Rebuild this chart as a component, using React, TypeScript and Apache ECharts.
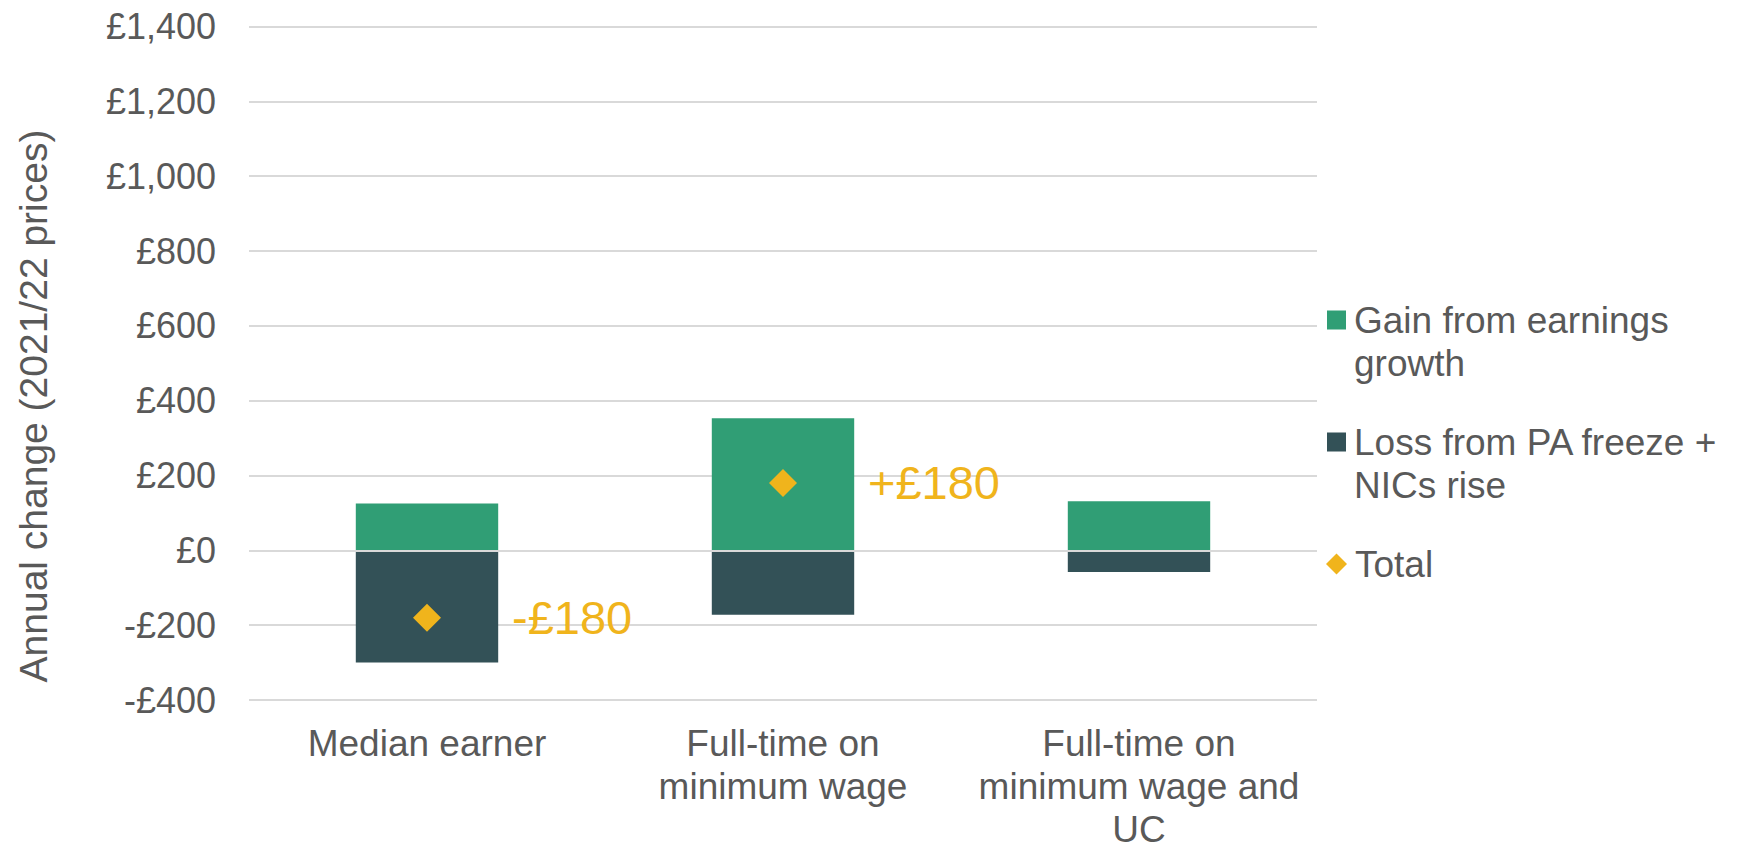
import React, { useEffect, useRef } from "react";
import * as echarts from "echarts";

// Household groups on the category axis
const categories: string[] = [
  "Median earner",
  "Full-time on\nminimum wage",
  "Full-time on\nminimum wage and\nUC",
];

// Annual change in £ (2021/22 prices)
const gainFromEarnings: number[] = [125, 353, 131];
const lossFromPaNics: number[] = [-300, -172, -58];
const totalChange: (number | string)[] = [-180, 180, "-"];

// Value-axis ticks
const yTicks: number[] = [-400, -200, 0, 200, 400, 600, 800, 1000, 1200, 1400];

const GAIN_NAME = "Gain from earnings growth";
const LOSS_NAME = "Loss from PA freeze + NICs rise";
const TOTAL_NAME = "Total";

const legendLabels: Record<string, string> = {
  [GAIN_NAME]: "Gain from earnings\ngrowth",
  [LOSS_NAME]: "Loss from PA freeze +\nNICs rise",
  [TOTAL_NAME]: "Total",
};

const GREEN = "#309E75";
const DARK = "#335157";
const YELLOW = "#F0B41C";
const TEXT = "#595959";
const GRID = "#D9D9D9";
const FONT = "'Liberation Sans', Arial, Helvetica, sans-serif";

// Square legend swatch sitting on the first line of a two-line label
const TOP_SQUARE = "path://M0,0H19V19H0Z M0,62H19";

const money = (v: number): string => {
  const abs = Math.abs(v).toLocaleString("en-GB");
  return v < 0 ? `-£${abs}` : `£${abs}`;
};

const legendText = {
  color: TEXT,
  fontSize: 37,
  lineHeight: 43,
  fontFamily: FONT,
  padding: [0, 0, 0, 3],
};

export default function App() {
  const ref = useRef<HTMLDivElement>(null);

  useEffect(() => {
    if (!ref.current) return;
    const chart = echarts.init(ref.current, undefined, { renderer: "svg" });

    chart.setOption({
      animation: false,
      backgroundColor: "#ffffff",
      textStyle: { fontFamily: FONT },
      grid: { left: 249, right: 426, top: 26.5, height: 678.7, containLabel: false },
      graphic: [
        {
          type: "text",
          x: 33,
          y: 406,
          rotation: Math.PI / 2,
          style: {
            text: "Annual change (2021/22 prices)",
            fontSize: 39,
            fontFamily: FONT,
            fill: TEXT,
            align: "center",
            verticalAlign: "middle",
          },
        },
      ],
      legend: [
        {
          data: [GAIN_NAME],
          left: 1327,
          top: 298.5,
          padding: 0,
          orient: "vertical",
          icon: TOP_SQUARE,
          itemWidth: 19,
          itemHeight: 62,
          textStyle: legendText,
          formatter: (n: string) => legendLabels[n] ?? n,
          selectedMode: false,
        },
        {
          data: [LOSS_NAME],
          left: 1327,
          top: 420.5,
          padding: 0,
          orient: "vertical",
          icon: TOP_SQUARE,
          itemWidth: 19,
          itemHeight: 62,
          textStyle: legendText,
          formatter: (n: string) => legendLabels[n] ?? n,
          selectedMode: false,
        },
        {
          data: [TOTAL_NAME],
          left: 1326,
          top: 542.5,
          padding: 0,
          orient: "vertical",
          icon: "diamond",
          itemWidth: 21,
          itemHeight: 21,
          textStyle: legendText,
          formatter: (n: string) => legendLabels[n] ?? n,
          selectedMode: false,
        },
      ],
      xAxis: {
        type: "category",
        data: categories,
        axisLine: { show: false, onZero: false },
        axisTick: { show: false },
        axisLabel: {
          interval: 0,
          color: TEXT,
          fontSize: 37,
          lineHeight: 43,
          margin: 22,
          fontFamily: FONT,
        },
      },
      yAxis: {
        type: "value",
        min: yTicks[0],
        max: yTicks[yTicks.length - 1],
        interval: 200,
        axisLine: { show: false },
        axisTick: { show: false },
        axisLabel: {
          color: TEXT,
          fontSize: 36,
          margin: 33,
          fontFamily: FONT,
          formatter: (v: number) => money(v),
        },
        splitLine: { lineStyle: { color: GRID, width: 2 } },
      },
      series: [
        {
          name: GAIN_NAME,
          type: "bar",
          stack: "change",
          barWidth: "40%",
          data: gainFromEarnings,
          itemStyle: { color: GREEN },
        },
        {
          name: LOSS_NAME,
          type: "bar",
          stack: "change",
          barWidth: "40%",
          data: lossFromPaNics,
          itemStyle: { color: DARK },
          markLine: {
            silent: true,
            symbol: "none",
            label: { show: false },
            lineStyle: { color: GRID, width: 2, type: "solid" },
            emphasis: { disabled: true },
            data: [{ yAxis: 0 }],
          },
        },
        {
          name: TOTAL_NAME,
          type: "scatter",
          symbol: "diamond",
          symbolSize: 28,
          z: 6,
          data: totalChange,
          itemStyle: { color: YELLOW, opacity: 1 },
          label: {
            show: true,
            position: "right",
            distance: 71,
            color: YELLOW,
            opacity: 1,
            fontSize: 47,
            fontFamily: FONT,
            formatter: (p: any) => {
              const v = Number(p.value);
              return `${v > 0 ? "+" : "-"}£${Math.abs(v)}`;
            },
          },
        },
      ],
    });

    return () => chart.dispose();
  }, []);

  return (
    <div
      ref={ref}
      style={{ position: "fixed", left: 0, top: 0, width: 1743, height: 851 }}
    />
  );
}
